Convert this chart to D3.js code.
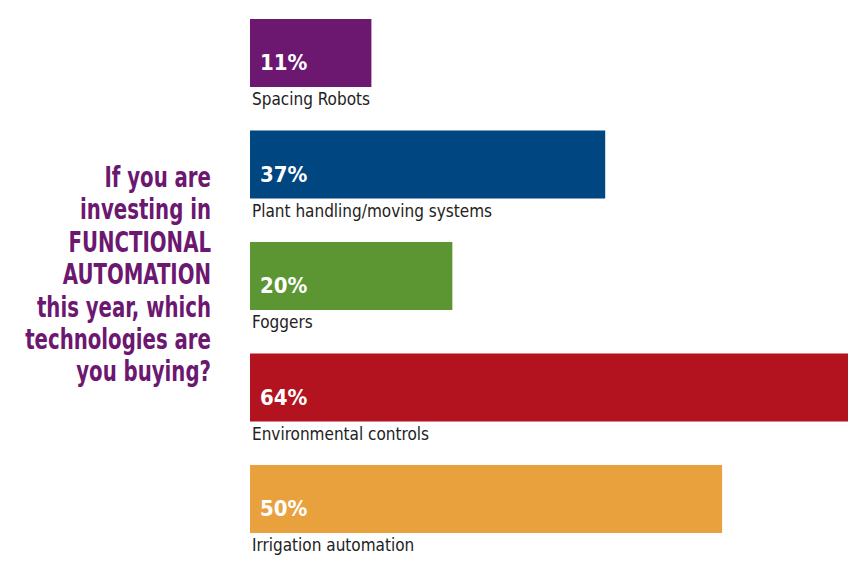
<!DOCTYPE html>
<html>
<head>
<meta charset="utf-8">
<script src="https://cdn.jsdelivr.net/npm/d3@7"></script>
<style>
  body { margin: 0; background: #fff; }
</style>
</head>
<body>
<div id="chart"></div>
<script>
// chart data
const categories = ["Spacing Robots", "Plant handling/moving systems", "Foggers", "Environmental controls", "Irrigation automation"];
const percents = [11, 37, 20, 64, 50];
const barColors = ["#6c1770", "#004680", "#5b9632", "#b3131e", "#e9a13e"];
const titleLines = ["If you are", "investing in", "FUNCTIONAL", "AUTOMATION", "this year, which", "technologies are", "you buying?"];

const width = 864, height = 576;
const font = "'DejaVu Sans Condensed', 'DejaVu Sans', sans-serif";

const svg = d3.select("#chart")
  .append("svg")
  .attr("width", width)
  .attr("height", height);

// band scale for the rows, linear for bar length
const y = d3.scaleBand()
  .domain(categories)
  .range([19, 533])
  .paddingInner(0.39)
  .paddingOuter(0);

// the bars in the original carry a small stub before zero
const x = d3.scaleLinear()
  .domain([-2.5, 64])
  .range([250, 848]);
const x0 = x.range()[0];

const rows = svg.selectAll("g.row")
  .data(categories)
  .enter()
  .append("g")
  .attr("class", "row");

rows.append("rect")
  .attr("x", x0)
  .attr("y", d => y(d))
  .attr("width", (d, i) => x(percents[i]) - x0)
  .attr("height", y.bandwidth())
  .attr("fill", (d, i) => barColors[i]);

// percent label inside bar
rows.append("text")
  .attr("x", x0 + 10)
  .attr("y", d => y(d) + y.bandwidth() - 17)
  .attr("fill", "#fff")
  .attr("font-family", font)
  .attr("font-weight", "bold")
  .attr("font-size", "22px")
  .text((d, i) => percents[i] + "%");

// category label under bar
rows.append("text")
  .attr("x", x0 + 2)
  .attr("y", d => y(d) + y.bandwidth() + 18)
  .attr("fill", "#222")
  .attr("font-family", font)
  .attr("font-size", "17px")
  .text(d => d);

// question on the left, squeezed horizontally to fit the column
const title = svg.append("g");
const titleText = title.append("text")
  .attr("text-anchor", "end")
  .attr("fill", "#6c1770")
  .attr("font-family", font)
  .attr("font-weight", "bold")
  .attr("font-size", "28px");

titleText.selectAll("tspan")
  .data(titleLines)
  .enter()
  .append("tspan")
  .attr("x", 0)
  .attr("y", (d, i) => 187 + i * 32.4)
  .text(d => d);

const widest = d3.max(titleText.selectAll("tspan").nodes(), n => n.getComputedTextLength());
const k = Math.min(1, 186 / widest);
title.attr("transform", `translate(211,0) scale(${k},1)`);
</script>
</body>
</html>
